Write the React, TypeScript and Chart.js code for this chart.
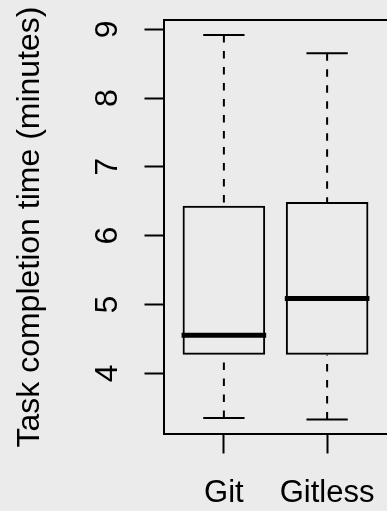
import React, { useEffect, useRef } from "react";
import { Chart, registerables } from "chart.js";

Chart.register(...registerables);

const categories = ["Git", "Gitless"];
const whiskerLow = [3.35, 3.33];
const q1 = [4.27, 4.27];
const median = [4.555, 5.087];
const q3 = [6.436, 6.49];
const whiskerHigh = [8.917, 8.651];
const yTicks = [4, 5, 6, 7, 8, 9];
const yTitle = "Task completion time (minutes)";

const FONT = "'Liberation Sans', Arial, Helvetica, sans-serif";
const BG = "#ebebeb";

const boxPlugin = {
  id: "boxExtras",
  beforeDraw(chart: any) {
    const { ctx, width, height } = chart;
    ctx.save();
    ctx.fillStyle = BG;
    ctx.fillRect(0, 0, width, height);
    ctx.restore();
  },
  afterDatasetsDraw(chart: any) {
    const { ctx, chartArea } = chart;
    const y = chart.scales.y;
    const meta = chart.getDatasetMeta(0);
    ctx.save();
    ctx.strokeStyle = "#000";
    categories.forEach((_, i) => {
      const bar = meta.data[i];
      if (!bar) return;
      const cx = bar.x;
      const w = bar.width;
      ctx.lineWidth = 2;
      ctx.lineCap = "butt";
      ctx.setLineDash([7.5, 8.5]);
      ctx.beginPath();
      ctx.moveTo(cx, y.getPixelForValue(whiskerHigh[i]));
      ctx.lineTo(cx, y.getPixelForValue(q3[i]));
      ctx.moveTo(cx, y.getPixelForValue(whiskerLow[i]));
      ctx.lineTo(cx, y.getPixelForValue(q1[i]));
      ctx.stroke();
      ctx.setLineDash([]);
      ctx.beginPath();
      [whiskerHigh[i], whiskerLow[i]].forEach((v) => {
        const py = y.getPixelForValue(v);
        ctx.moveTo(cx - w / 4, py);
        ctx.lineTo(cx + w / 4, py);
      });
      ctx.stroke();
      ctx.lineWidth = 5;
      ctx.beginPath();
      const my = y.getPixelForValue(median[i]);
      ctx.moveTo(cx - w / 2 - 1, my);
      ctx.lineTo(cx + w / 2 + 1, my);
      ctx.stroke();
    });
    ctx.lineWidth = 2;
    ctx.lineJoin = "miter";
    ctx.beginPath();
    ctx.moveTo(chartArea.right + 3, chartArea.top);
    ctx.lineTo(chartArea.left, chartArea.top);
    ctx.lineTo(chartArea.left, chartArea.bottom);
    ctx.lineTo(chartArea.right + 3, chartArea.bottom);
    ctx.stroke();
    ctx.restore();
  },
};

export default function App() {
  const ref = useRef<HTMLCanvasElement>(null);
  useEffect(() => {
    document.body.style.margin = "0";
    document.body.style.background = BG;
    const canvas = ref.current;
    if (!canvas) return;
    const chart = new Chart(canvas, {
      type: "bar",
      data: {
        datasets: [
          {
            data: categories.map((_, i) => ({ x: i + 1, y: [q1[i], q3[i]] })) as any,
            backgroundColor: "rgba(0,0,0,0)",
            borderColor: "#000",
            borderWidth: 2,
            borderSkipped: false,
            categoryPercentage: 1,
            barPercentage: 0.8,
          },
        ],
      },
      options: {
        animation: false,
        responsive: false,
        maintainAspectRatio: false,
        devicePixelRatio: 1,
        layout: { padding: { top: 20, left: 0, right: 0, bottom: 0 } },
        plugins: { legend: { display: false }, tooltip: { enabled: false } },
        scales: {
          x: {
            type: "linear",
            offset: false,
            min: 0.42,
            max: 2.58,
            afterBuildTicks: (scale: any) => {
              scale.ticks = categories.map((_, i) => ({ value: i + 1 }));
            },
            afterFit: (scale: any) => {
              scale.height = 77;
              scale.paddingLeft = 0;
              scale.paddingRight = 0;
              scale.paddingTop = 0;
              scale.paddingBottom = 0;
            },
            grid: {
              offset: false,
              drawOnChartArea: false,
              drawTicks: true,
              tickLength: 19.5,
              tickWidth: 2,
              tickColor: "#000",
            },
            border: { display: false },
            ticks: {
              color: "#000",
              font: { family: FONT, size: 31, lineHeight: 1 },
              padding: 24.3,
              maxRotation: 0,
              autoSkip: false,
              callback: (value: any) => categories[Math.round(Number(value)) - 1] ?? "",
            },
          },
          y: {
            type: "linear",
            min: 3.118,
            max: 9.135,
            afterBuildTicks: (scale: any) => {
              scale.ticks = yTicks.map((v) => ({ value: v }));
            },
            afterFit: (scale: any) => {
              scale.width = 164;
              scale.paddingLeft = 0;
              scale.paddingRight = 0;
              scale.paddingTop = 0;
              scale.paddingBottom = 0;
            },
            grid: {
              drawOnChartArea: false,
              drawTicks: true,
              tickLength: 19.5,
              tickWidth: 2,
              tickColor: "#000",
            },
            border: { display: false },
            ticks: {
              color: "#000",
              font: { family: FONT, size: 32, lineHeight: 1 },
              padding: 27,
              minRotation: 90,
              maxRotation: 90,
              crossAlign: "center",
              autoSkip: false,
              callback: (value: any) => String(value),
            },
            title: {
              display: true,
              text: yTitle,
              color: "#000",
              font: { family: FONT, size: 32, lineHeight: 1 },
              padding: { top: 14, bottom: 0 },
            },
          },
        },
      },
      plugins: [boxPlugin],
    } as any);
    return () => chart.destroy();
  }, []);
  return (
    <div style={{ width: 387, height: 511, background: BG }}>
      <canvas ref={ref} width={387} height={511} style={{ display: "block" }} />
    </div>
  );
}
